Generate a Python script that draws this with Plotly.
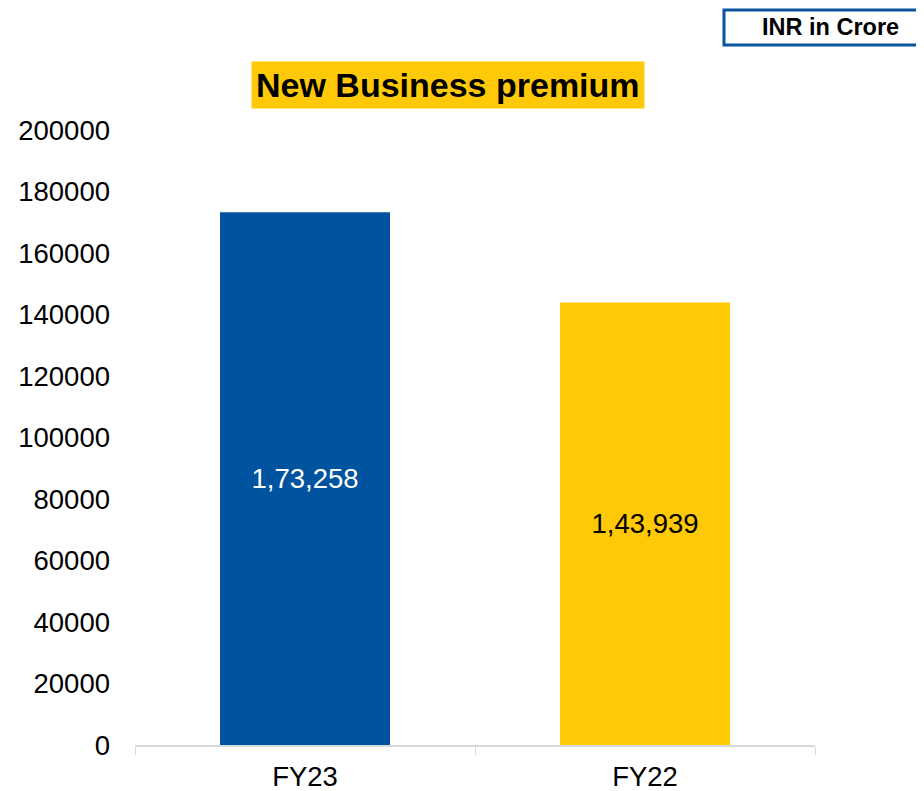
import plotly.graph_objects as go

years = ['FY23', 'FY22']
premium = [173258, 143939]
bar_labels = ['1,73,258', '1,43,939']
bar_colors = ['#00539f', '#ffc907']
label_colors = ['white', 'black']
y_ticks = [0, 20000, 40000, 60000, 80000, 100000, 120000, 140000, 160000, 180000, 200000]

FONT = 'Liberation Sans, Arial, sans-serif'

# the page body adds an 8px margin, so the figure is drawn smaller to fit the window
OFF = 8


def px_x(px):
    # convert a pixel x position (window coords) to paper coords, plot spans 135..815
    return (px - 135) / 680


def px_y(py):
    # plot spans 130..745 vertically
    return (745 - py) / 615


bar_trace = go.Bar(
    x=years,
    y=premium,
    width=0.5,
    marker=dict(color=bar_colors, line=dict(width=0)),
    text=bar_labels,
    textposition='inside',
    insidetextanchor='middle',
    textangle=0,
    textfont=dict(family=FONT, size=27.5, color=label_colors),
    hoverinfo='x+y',
)

fig = go.Figure(data=[bar_trace])

fig.update_layout(
    width=924 - OFF,
    height=791 - OFF,
    plot_bgcolor='white',
    paper_bgcolor='white',
    showlegend=False,
    margin=dict(l=135 - OFF, r=109, t=130 - OFF, b=46),
    font=dict(family=FONT, size=27.5, color='black'),
    xaxis=dict(
        automargin=False,
        showgrid=False,
        zeroline=False,
        showline=True,
        linecolor='#d9d9d9',
        linewidth=1.5,
        ticks='outside',
        tickson='boundaries',
        ticklen=8,
        tickcolor='#d9d9d9',
        ticklabelstandoff=6,
        tickfont=dict(family=FONT, size=27.5, color='black'),
    ),
    yaxis=dict(
        automargin=False,
        range=[0, 200000],
        tickvals=y_ticks,
        ticktext=[str(v) for v in y_ticks],
        showgrid=False,
        zeroline=False,
        showline=False,
        ticklabelstandoff=24,
        tickfont=dict(family=FONT, size=27.5, color='black'),
    ),
    annotations=[
        dict(
            text='<b>New Business premium</b>',
            xref='paper', yref='paper',
            x=px_x(447.5), y=px_y(85),
            xanchor='center', yanchor='middle',
            showarrow=False,
            font=dict(family=FONT, size=34, color='black'),
            bgcolor='#ffc907',
            borderpad=4,
        ),
        dict(
            text='<b>INR in Crore</b>',
            xref='paper', yref='paper',
            x=px_x(830), y=px_y(27),
            xanchor='center', yanchor='middle',
            showarrow=False,
            font=dict(family=FONT, size=23.5, color='black'),
        ),
    ],
    shapes=[
        dict(
            type='rect',
            xref='paper', yref='paper',
            x0=px_x(724), x1=px_x(930),
            y0=px_y(45), y1=px_y(10),
            line=dict(color='#0a55a0', width=3),
            fillcolor='rgba(0,0,0,0)',
        ),
    ],
)

fig.write_html("out.html")
